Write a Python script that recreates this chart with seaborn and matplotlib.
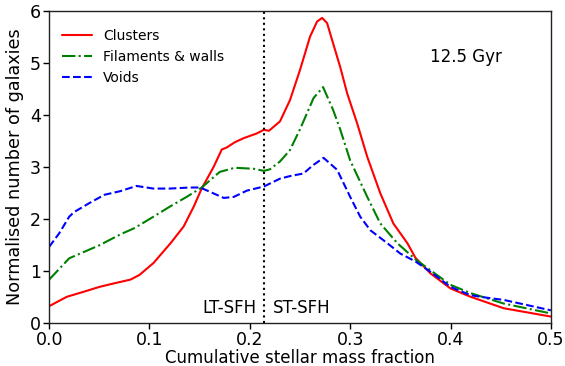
import matplotlib
matplotlib.use("Agg")
import matplotlib.pyplot as plt
import seaborn as sns

# Clusters
cl_x = [0.0, 0.0176, 0.035, 0.05, 0.065, 0.081, 0.09, 0.104, 0.121, 0.134, 0.144, 0.152, 0.164, 0.172,
        0.177, 0.185, 0.194, 0.207, 0.214, 0.219, 0.23, 0.24, 0.25, 0.26, 0.267, 0.272, 0.277, 0.283,
        0.29, 0.297, 0.307, 0.317, 0.33, 0.343, 0.357, 0.365, 0.38, 0.4, 0.42, 0.453, 0.5]
cl_y = [0.32, 0.5, 0.6, 0.69, 0.76, 0.83, 0.92, 1.15, 1.53, 1.85, 2.23, 2.58, 3.0, 3.33,
        3.37, 3.47, 3.55, 3.64, 3.71, 3.69, 3.87, 4.28, 4.86, 5.50, 5.79, 5.86, 5.76, 5.37,
        4.92, 4.41, 3.83, 3.19, 2.49, 1.91, 1.53, 1.25, 0.95, 0.66, 0.5, 0.28, 0.12]

# Filaments & walls
fw_x = [0.0, 0.02, 0.05, 0.071, 0.085, 0.104, 0.12, 0.137, 0.152, 0.17, 0.185, 0.204, 0.214, 0.22,
        0.23, 0.24, 0.25, 0.2635, 0.273, 0.283, 0.29, 0.3, 0.317, 0.33, 0.347, 0.365, 0.38, 0.4, 0.42,
        0.453, 0.5]
fw_y = [0.83, 1.24, 1.49, 1.70, 1.82, 2.04, 2.23, 2.42, 2.60, 2.90, 2.98, 2.96, 2.92, 2.95,
        3.10, 3.32, 3.72, 4.32, 4.53, 4.09, 3.72, 3.12, 2.42, 1.91, 1.53, 1.22, 1.01, 0.73, 0.57,
        0.37, 0.18]

# Voids
vo_x = [0.0, 0.01, 0.02, 0.025, 0.04, 0.055, 0.0708, 0.087, 0.104, 0.12, 0.14, 0.1505, 0.16, 0.174,
        0.184, 0.197, 0.214, 0.23, 0.24, 0.2535, 0.263, 0.2735, 0.287, 0.3, 0.31, 0.32, 0.337, 0.35,
        0.365, 0.38, 0.4, 0.42, 0.437, 0.453, 0.5]
vo_y = [1.46, 1.72, 2.04, 2.13, 2.30, 2.46, 2.53, 2.63, 2.58, 2.58, 2.60, 2.60, 2.52, 2.40,
        2.42, 2.54, 2.62, 2.77, 2.82, 2.87, 3.03, 3.17, 2.94, 2.42, 2.04, 1.78, 1.53, 1.33,
        1.18, 0.98, 0.69, 0.53, 0.48, 0.44, 0.24]

split_x = 0.2145
xticks = [0.0, 0.1, 0.2, 0.3, 0.4, 0.5]
yticks = [0, 1, 2, 3, 4, 5, 6]

sns.set_style("ticks")
plt.rcParams['font.family'] = ['DejaVu Sans']
plt.rcParams['text.color'] = 'black'
plt.rcParams['axes.labelcolor'] = 'black'
plt.rcParams['xtick.color'] = 'black'
plt.rcParams['ytick.color'] = 'black'

fig, ax = plt.subplots(figsize=(5.65, 3.66), dpi=100)

sns.lineplot(x=cl_x, y=cl_y, ax=ax, color="red", lw=1.5, label="Clusters", sort=False)
sns.lineplot(x=fw_x, y=fw_y, ax=ax, color="green", lw=1.5, linestyle="-.", label="Filaments & walls", sort=False)
sns.lineplot(x=vo_x, y=vo_y, ax=ax, color="blue", lw=1.5, linestyle="--", label="Voids", sort=False)

ax.axvline(split_x, color="black", linestyle=":", lw=1.5)

ax.set_xlim(0, 0.5)
ax.set_ylim(0, 6)
ax.set_xticks(xticks)
ax.set_yticks(yticks)
ax.set_xticklabels([f"{t:.1f}" for t in xticks])
ax.tick_params(labelsize=12.5, length=4, width=1, pad=2, colors="black")
ax.set_xlabel("Cumulative stellar mass fraction", fontsize=12, labelpad=0)
ax.set_ylabel("Normalised number of galaxies", fontsize=12.7, labelpad=4)
for s in ax.spines.values():
    s.set_linewidth(1.0)
    s.set_color("#222222")

ax.text(split_x - 0.008, 0.12, "LT-SFH", ha="right", va="bottom", fontsize=12)
ax.text(split_x + 0.008, 0.12, "ST-SFH", ha="left", va="bottom", fontsize=12)
ax.text(0.38, 5.1, "12.5 Gyr", ha="left", va="center", fontsize=12)

ax.legend(loc="upper left", frameon=False, fontsize=10, handlelength=2.2, bbox_to_anchor=(0.0, 0.98))

fig.subplots_adjust(left=0.087, right=0.975, top=0.971, bottom=0.118)
fig.savefig("out.png", dpi=100)
